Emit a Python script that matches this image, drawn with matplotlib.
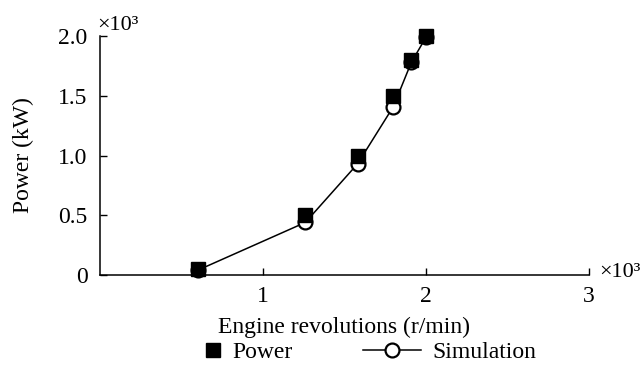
import matplotlib.pyplot as plt

plt.rcParams['font.family'] = ['Liberation Serif', 'DejaVu Serif']

# engine speed (r/min) and power (kW)
rpm_power = [600, 1260, 1580, 1800, 1910, 2000]
power = [50, 500, 1000, 1500, 1800, 2000]

rpm_sim = [600, 1260, 1580, 1800, 1910, 2000]
power_sim = [40, 440, 930, 1410, 1780, 1990]

x_ticks = [1000, 2000, 3000]
x_labels = ['1', '2', '3']
y_ticks = [0, 500, 1000, 1500, 2000]
y_labels = ['0', '0.5', '1.0', '1.5', '2.0']

fig = plt.figure(figsize=(6.43, 3.67), dpi=100)
ax = fig.add_axes([0.1555, 0.2507, 0.7605, 0.651])

sim_line, = ax.plot(rpm_sim, power_sim, color='black', lw=1.1, marker='o',
                    ms=10, mfc='white', mec='black', mew=1.6,
                    label='Simulation', zorder=2, clip_on=False)
pow_pts, = ax.plot(rpm_power, power, ls='none', marker='s', ms=10,
                   color='black', label='Power', zorder=3, clip_on=False)

ax.set_xlim(0, 3000)
ax.set_ylim(0, 2000)
ax.set_xticks(x_ticks)
ax.set_xticklabels(x_labels)
ax.set_yticks(y_ticks)
ax.set_yticklabels(y_labels)
ax.tick_params(direction='in', length=5, width=1, labelsize=17, pad=8)
ax.tick_params(axis='y', pad=9)

for side in ['top', 'right']:
    ax.spines[side].set_visible(False)
for side in ['left', 'bottom']:
    ax.spines[side].set_linewidth(1.1)

ax.set_xlabel('Engine revolutions (r/min)', fontsize=17, labelpad=7)
ax.set_ylabel('Power (kW)', fontsize=17, labelpad=17)

# scale factors
ax.text(-0.005, 1.005, '×10³', transform=ax.transAxes, fontsize=16,
        ha='left', va='bottom')
ax.text(1.02, 0.01, '×10³', transform=ax.transAxes, fontsize=16,
        ha='left', va='center')

# two legend entries with different handle lengths
leg1 = fig.legend([pow_pts], ['Power'], loc='center left',
                  bbox_to_anchor=(0.295, 0.04), frameon=False, fontsize=17,
                  handlelength=1.0, handletextpad=0.3, borderpad=0)
leg2 = fig.legend([sim_line], ['Simulation'], loc='center left',
                  bbox_to_anchor=(0.546, 0.04), frameon=False, fontsize=17,
                  handlelength=2.45, handletextpad=0.5, borderpad=0)

fig.savefig('out.png', dpi=100)
